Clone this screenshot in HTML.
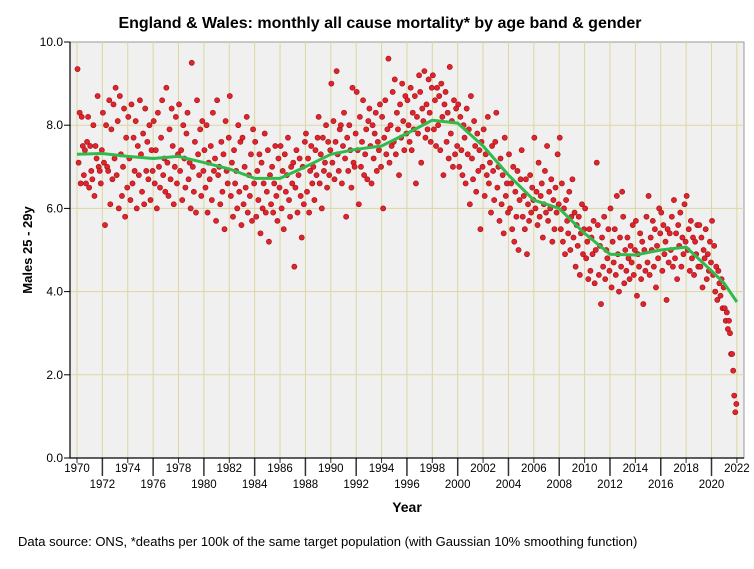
<!DOCTYPE html>
<html><head><meta charset="utf-8"><style>
body{margin:0;background:#fff;font-family:"Liberation Sans",Arial,sans-serif}
svg text{font-family:"Liberation Sans",Arial,sans-serif}
</style></head><body>
<svg id="chart" width="754" height="564" viewBox="0 0 754 564" xmlns="http://www.w3.org/2000/svg">
<rect width="754" height="564" fill="#fff"/>
<text x="380" y="28" text-anchor="middle" font-size="16" font-weight="bold">England &amp; Wales: monthly all cause mortality* by age band &amp; gender</text>
<rect x="70" y="42" width="674" height="416" fill="#f0f0f0" stroke="#999" stroke-width="1"/>
<g id="grid"></g>
<g id="axes"></g>
<g id="points"></g>
<g id="trend"></g>
<text transform="translate(32,250) rotate(-90)" text-anchor="middle" font-size="13" font-weight="bold">Males 25 - 29y</text>
<text x="407" y="512" text-anchor="middle" font-size="14" font-weight="bold">Year</text>
<text x="18" y="546" font-size="13">Data source: ONS, *deaths per 100k of the same target population (with Gaussian 10% smoothing function)</text>
</svg>
<script>
const startYear = 1970;
const monthlyRate = [
9.35,7.1,8.3,6.6,8.2,7.5,6.8,7.4,6.6,7.6,8.2,6.5,
7.5,6.9,6.7,8.0,6.3,7.5,7.2,8.7,7.0,6.9,6.6,7.4,
8.3,7.1,5.6,8.0,7.0,6.9,8.6,6.1,7.9,6.7,8.5,7.2,
8.9,6.8,8.1,6.0,8.7,7.3,6.3,7.0,8.4,5.8,7.7,6.5,
8.2,7.2,6.2,8.5,6.6,7.7,6.9,8.1,6.0,7.5,6.8,8.6,
7.3,6.4,7.8,6.1,8.4,6.9,7.6,6.7,8.0,6.2,7.4,6.9,
8.1,6.6,7.4,6.0,8.3,7.0,6.5,7.7,8.6,6.8,7.2,6.4,
8.9,7.1,6.3,7.9,6.7,8.4,7.5,6.1,7.0,8.2,6.6,7.3,
8.5,6.9,7.4,6.2,8.0,7.2,6.5,7.8,8.3,6.7,7.1,6.0,
9.5,7.0,6.4,7.6,5.9,8.6,7.3,6.8,7.9,6.3,8.1,6.9,
7.4,6.5,8.0,5.9,7.1,6.7,7.5,6.2,8.3,6.9,7.2,5.7,
8.6,6.8,7.0,6.1,7.6,6.4,7.3,5.5,8.1,6.9,6.6,7.7,
8.7,6.3,7.1,5.8,7.4,6.6,6.9,6.0,8.0,6.4,7.6,5.6,
7.7,6.1,7.0,6.5,8.2,5.9,6.8,6.3,7.3,5.7,7.9,6.6,
7.6,5.8,6.9,6.2,7.3,5.4,7.1,6.0,6.6,7.8,5.9,6.4,
7.4,5.2,6.8,6.1,7.0,5.9,6.6,7.5,6.3,5.7,7.2,6.5,
7.5,6.0,6.9,5.5,7.3,6.4,6.8,7.7,6.2,5.8,7.0,6.6,
7.1,4.6,6.5,7.4,5.9,6.8,7.2,6.3,5.3,7.0,6.1,7.6,
7.8,6.4,7.2,5.9,6.9,7.5,6.6,7.0,6.2,7.4,6.8,7.7,
8.2,6.6,7.3,6.0,7.7,6.9,7.1,8.0,6.5,7.6,6.8,7.4,
9.0,7.1,8.1,6.7,7.6,9.3,7.3,6.9,7.9,8.0,6.6,7.5,
8.3,7.2,5.8,7.7,6.9,8.0,7.4,6.5,8.9,7.1,7.0,7.8,
8.8,7.4,6.1,8.2,7.0,7.6,8.6,6.8,7.3,7.9,6.7,8.1,
8.4,7.5,6.6,8.0,7.2,7.8,8.3,6.9,7.6,7.4,8.5,7.0,
8.2,6.0,7.7,8.6,7.3,7.9,9.6,7.1,8.0,7.5,8.8,7.6,
9.1,7.3,8.3,7.9,6.8,8.5,7.7,9.0,8.1,7.4,8.7,7.8,
8.6,8.0,7.6,8.9,7.4,8.3,7.9,8.7,6.6,8.2,7.8,9.2,
8.8,7.1,8.4,8.1,9.3,7.7,8.5,7.9,9.1,8.3,7.6,8.9,
9.2,7.9,8.6,7.5,8.9,8.0,8.7,7.4,9.0,8.2,6.8,8.5,
8.8,7.6,8.3,7.2,9.4,7.8,8.1,7.0,8.6,7.3,8.4,7.5,
8.5,7.0,8.2,7.4,6.8,8.0,7.7,6.6,8.4,7.3,7.9,6.1,
8.7,7.2,6.7,8.1,7.5,6.4,7.8,6.9,7.4,5.5,7.6,7.0,
7.9,6.3,7.3,6.8,8.2,6.6,7.1,5.9,7.5,6.9,6.2,7.6,
8.3,6.5,7.0,5.7,7.2,6.1,6.8,5.4,7.7,6.3,6.6,5.9,
7.3,6.0,6.6,5.5,7.0,5.2,6.4,5.8,6.9,5.0,6.2,6.7,
7.4,5.8,6.3,5.5,6.7,4.9,6.1,5.7,6.8,5.9,6.5,6.2,
7.7,6.0,6.4,5.6,7.1,5.8,6.3,6.6,5.3,6.1,6.9,5.9,
7.5,5.7,6.4,6.0,6.7,5.2,6.2,5.5,6.5,5.9,7.3,6.1,
7.7,5.5,6.6,5.2,6.0,4.9,6.2,5.7,5.4,6.4,5.0,5.8,
6.7,5.3,5.9,4.6,5.6,5.1,5.8,4.4,5.4,6.1,4.9,5.5,
6.0,4.8,5.2,4.3,5.5,4.5,5.3,4.9,5.7,4.2,5.0,7.1,
5.6,4.4,5.1,3.7,5.3,4.6,5.8,4.3,5.0,4.8,5.5,4.5,
6.0,4.1,5.2,4.7,5.5,4.4,6.3,4.9,4.0,5.3,4.6,6.4,
5.8,4.2,5.0,4.5,5.3,4.8,4.3,5.1,4.7,5.6,4.4,5.0,
5.7,3.9,4.9,4.6,5.4,4.3,5.2,3.7,5.0,4.5,5.8,4.7,
6.3,4.4,5.3,5.0,5.7,4.6,5.5,4.1,5.1,4.8,6.0,5.4,
5.9,4.5,5.6,4.9,5.2,3.8,5.5,4.7,5.4,5.0,5.8,4.6,
6.2,4.8,5.4,4.3,5.6,5.1,5.9,4.6,5.3,4.9,6.1,5.2,
6.3,5.0,5.5,4.5,5.7,4.8,5.3,4.4,5.2,4.9,5.6,4.6,
5.6,4.6,5.3,4.1,5.0,4.8,5.5,4.3,4.9,4.5,5.2,4.7,
5.7,4.4,5.1,4.0,4.6,3.8,4.5,4.2,3.9,4.3,3.6,4.1,
3.6,3.3,3.5,3.1,3.3,3.0,2.5,2.5,2.1,1.5,1.1,1.3
];
const trendYears = [1970,1972,1974,1976,1978,1980,1982,1984,1986,1988,1990,1992,1994,1996,1998,2000,2002,2004,2006,2008,2010,2012,2014,2016,2018,2020,2021,2022];
const trendValues = [7.3,7.32,7.25,7.2,7.25,7.1,6.95,6.72,6.72,7.0,7.3,7.42,7.5,7.8,8.12,8.05,7.5,6.8,6.2,6.0,5.4,4.9,4.88,5.0,5.07,4.5,4.2,3.75];
const yTicks = [0,2,4,6,8,10];
const xTickYears = [1970,1972,1974,1976,1978,1980,1982,1984,1986,1988,1990,1992,1994,1996,1998,2000,2002,2004,2006,2008,2010,2012,2014,2016,2018,2020,2022];

const NS="http://www.w3.org/2000/svg";
const X = yr => 77 + (yr-1970)*12.69;
const Y = v => 458 - v*41.6;
function mk(tag, attrs, parent){const e=document.createElementNS(NS,tag);for(const k in attrs)e.setAttribute(k,attrs[k]);parent.appendChild(e);return e;}
const grid=document.getElementById('grid'), axes=document.getElementById('axes'), pts=document.getElementById('points'), tr=document.getElementById('trend');

yTicks.forEach(v=>{
  if(v>0&&v<10){const g=mk('line',{x1:70,x2:744,y1:Y(v),y2:Y(v),stroke:'#ddd6a0','stroke-width':1},grid);
  
  }
  const t=mk('line',{x1:64,x2:70,y1:Y(v),y2:Y(v),stroke:'#000'},axes);
  
  
  const l=mk('text',{x:63,y:Y(v)+4,'text-anchor':'end','font-size':12},axes);l.textContent=v.toFixed(1);
  
  
});
xTickYears.forEach((yr,i)=>{
  const g=mk('line',{x1:X(yr),x2:X(yr),y1:42,y2:458,stroke:'#ddd6a0','stroke-width':1},grid);
  
  
  const low=(i%2===1);
  const t=mk('line',{x1:X(yr),x2:X(yr),y1:458,y2:low?476:463,stroke:'#333','stroke-width':low?1.5:1},axes);
  
  
  const l=mk('text',{x:X(yr),y:low?488:472,'text-anchor':'middle','font-size':11.5},axes);l.textContent=yr;
  
  
});
const ax=mk('path',{d:'M70 42 V458 H744',fill:'none',stroke:'#000','stroke-width':1.2},axes);



monthlyRate.forEach((v,i)=>{
  const c=mk('circle',{cx:X(startYear+(i+0.5)/12),cy:Y(v),r:2.6,fill:'#e0242c',stroke:'#a01018','stroke-width':0.6},pts);
  
  
});
const d=trendYears.map((yr,i)=>(i?'L':'M')+X(yr).toFixed(1)+' '+Y(trendValues[i]).toFixed(1)).join(' ');
const p=mk('path',{d:d,fill:'none',stroke:'#2fba4c','stroke-width':3,'stroke-linejoin':'round'},tr);


</script>
</body></html>
